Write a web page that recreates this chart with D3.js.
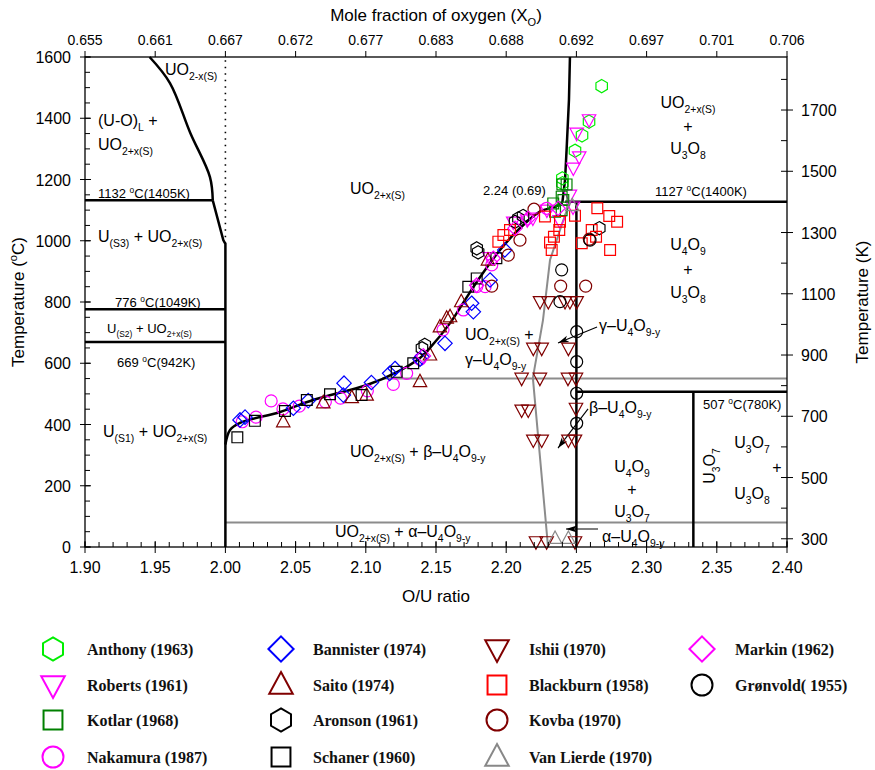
<!DOCTYPE html>
<html><head><meta charset="utf-8">
<script src="https://cdn.jsdelivr.net/npm/d3@7"></script>
<style>body{margin:0;background:#fff}svg{display:block}</style>
</head><body>
<svg id="c" width="875" height="770"></svg>
<script>
// ---------- DATA ----------
const ouTicks = [1.90,1.95,2.00,2.05,2.10,2.15,2.20,2.25,2.30,2.35,2.40];
const topTickLabels = ["0.655","0.661","0.667","0.672","0.677","0.683","0.688","0.692","0.697","0.701","0.706"];
const tempTicks = [0,200,400,600,800,1000,1200,1400,1600];
const kelvinTicks = [300,500,700,900,1100,1300,1500,1700];

const anthony = [[2.268,1505],[2.259,1389],[2.254,1344],[2.249,1294],[2.240,1204],[2.240,1188]];
const roberts = [[2.259,1395],[2.2502,1351],[2.252,1274],[2.2478,1237],[2.2454,1149],[2.205,1061],[2.215,1068],[2.219,1074],[2.229,1100],[2.238,1066],[2.2476,1110],[2.188,945]];
const kotlar = [[2.240,1184],[2.243,1184],[2.2395,1144],[2.2407,1133],[2.2335,1122],[2.2348,1095],[2.2395,1100]];
const nakamura = [[2.012,409],[2.0218,424],[2.0326,477],[2.041,451],[2.0526,460],[2.0712,474],[2.082,486],[2.1011,510],[2.1196,531],[2.1291,567],[2.1386,613],[2.155,709],[2.1695,774],[2.179,850],[2.185,850],[2.1897,921],[2.2288,1106]];
const bannister = [[2.0104,415],[2.014,424],[2.0484,453],[2.059,478],[2.0845,535],[2.084,496],[2.104,537],[2.117,567],[2.1208,583],[2.1386,613],[2.14,621],[2.1564,665],[2.1754,796],[2.1766,768],[2.1885,872],[2.199,970]];
const saito = [[2.0412,409],[2.0697,471],[2.09,488],[2.1006,496],[2.1386,540],[2.1528,719],[2.1576,747],[2.1457,627],[2.16,752],[2.168,801],[2.187,937]];
const aronson = [[2.179,975],[2.180,962],[2.2063,1062],[2.2087,1073],[2.212,1081],[2.2663,1041],[2.14,649],[2.142,660]];
const schaner = [[2.0085,358],[2.021,412],[2.0424,444],[2.058,480],[2.0745,499],[2.097,496],[2.122,572],[2.1338,600],[2.173,850],[2.179,877],[2.193,943]];
const ishii = [[2.2241,801],[2.23,801],[2.2419,801],[2.2454,801],[2.2502,801],[2.2193,649],[2.2253,649],[2.2443,649],[2.211,551],[2.224,551],[2.244,551],[2.2497,551],[2.211,447],[2.2157,447],[2.2497,453],[2.2193,349],[2.2253,349],[2.2443,349],[2.249,349],[2.2212,17],[2.2288,17],[2.249,17]];
const blackburn = [[2.2276,1079],[2.2383,1062],[2.249,1082],[2.2378,1035],[2.234,1013],[2.2312,994],[2.2324,970],[2.2649,1106],[2.2734,1081],[2.279,1062],[2.2609,1035],[2.264,1013],[2.2538,992],[2.274,970],[2.2027,1035],[2.198,1019],[2.1944,997]];
const kovba = [[2.2198,1103],[2.2098,1002],[2.2015,953],[2.1897,852],[2.2388,852],[2.2566,852],[2.2592,1005]];
const vanLierde = [[2.2348,28],[2.2443,28],[2.247,1115]];
const markin = [[2.2063,1041],[2.1908,943],[2.179,855],[2.237,1106],[2.2157,1073],[2.141,624]];
const gronvold = [[2.2383,801],[2.2502,703],[2.2502,605],[2.2502,502],[2.2502,404],[2.2395,905],[2.2597,1002]];

const seriesNames = ["Anthony (1963)","Roberts (1961)","Kotlar (1968)","Nakamura (1987)","Bannister (1974)","Saito (1974)","Aronson (1961)","Schaner (1960)","Ishii (1970)","Blackburn (1958)","Kovba (1970)","Van Lierde (1970)","Markin (1962)","Grønvold( 1955)"];
const seriesData = [anthony,roberts,kotlar,nakamura,bannister,saito,aronson,schaner,ishii,blackburn,kovba,vanLierde,markin,gronvold];
const seriesSymbols = ["hex","triDown","square","circle","diamond","triUp","hex","square","triDown","square","circle","triUp","diamond","circle"];
const seriesColors = ["#00ee00","#ff00ff","#008000","#ff00ff","#0000ff","#800000","#000000","#000000","#800000","#ff0000","#800000","#888888","#ff00ff","#000000"];

// phase boundaries (O/U, °C)
const liquidusTop = [[1.946,1600],[1.9605,1515],[1.975,1352],[1.989,1208],[1.991,1132]];
const liquidusLow = [[1.991,1132],[1.9985,1002],[2.0,990],[2.0,0]];
const uo2Curve = [[2.0,335],[2.0033,382],[2.0104,405],[2.039,441],[2.0624,480],[2.1009,529],[2.1222,571],[2.1386,617],[2.1457,650],[2.16,731],[2.1707,807],[2.18,872],[2.1956,970],[2.2098,1041],[2.224,1095],[2.236,1113],[2.240,1125]];
const uo2Upper = [[2.240,1125],[2.2419,1198],[2.243,1296],[2.2447,1460],[2.2454,1600]];
const dotted2 = [[2.0,990],[2.0,1600]];
const blackSegments = [
  [[1.90,1132],[1.991,1132]],
  [[1.90,776],[2.0,776]],
  [[1.90,669],[2.0,669]],
  [[2.242,1127],[2.40,1127]],
  [[2.25,0],[2.25,1127]],
  [[2.25,507],[2.40,507]],
  [[2.3333,0],[2.3333,507]]
];
const graySegments = [
  [[2.1115,550],[2.40,550]],
  [[2.0,80],[2.40,80]]
];
const grayCurve = [[2.246,1128],[2.2419,1084],[2.2312,937],[2.2262,741],[2.219,552],[2.2298,0]];
const arrows = [
  [[2.2647,718],[2.2369,666]],
  [[2.2583,451],[2.2369,323]],
  [[2.2654,59],[2.2426,59]]
];

// ---------- CHART ----------
const svg = d3.select("#c");
const SANS = "'Liberation Sans', Arial, Helvetica, sans-serif";
const x = d3.scaleLinear().domain([1.9,2.4]).range([85,787]);
const y = d3.scaleLinear().domain([0,1600]).range([547,57]);
const yK = d3.scaleLinear().domain([273.15,1873.15]).range([547,57]);

function rich(g, str, px, py, size, anchor) {
  const t = g.append("text").attr("x",px).attr("y",py).attr("font-size",size)
    .attr("text-anchor",anchor||"start").attr("font-family",SANS).attr("fill","#000");
  const parts = str.split(/(_\{[^}]*\}|\^\{[^}]*\})/).filter(s=>s.length);
  let shift = 0;
  parts.forEach(p => {
    let target = 0, content = p, fs = size;
    if (p.startsWith("_{")) { target = size*0.32; content = p.slice(2,-1); fs = size*0.65; }
    else if (p.startsWith("^{")) { target = -size*0.42; content = p.slice(2,-1); fs = size*0.65; }
    t.append("tspan").attr("dy", target-shift).attr("font-size", fs).text(content);
    shift = target;
  });
  return t;
}

function symPath(type, s) {
  if (type==="circle") { const r=s/2; return `M${r},0A${r},${r} 0 1,1 ${-r},0A${r},${r} 0 1,1 ${r},0Z`; }
  if (type==="square") { const h=s*0.45; return `M${-h},${-h}H${h}V${h}H${-h}Z`; }
  if (type==="diamond") { const h=s*0.6; return `M0,${-h}L${h},0L0,${h}L${-h},0Z`; }
  if (type==="triUp") { const a=s*0.56; return `M0,${-a*1.1}L${a},${a*0.75}L${-a},${a*0.75}Z`; }
  if (type==="triDown") { const a=s*0.56; return `M0,${a*1.1}L${a},${-a*0.75}L${-a},${-a*0.75}Z`; }
  if (type==="hex") { const r=s*0.55; let d=""; for(let i=0;i<6;i++){const an=-Math.PI/2+i*Math.PI/3; d+=(i?"L":"M")+(r*Math.cos(an)).toFixed(2)+","+(r*Math.sin(an)).toFixed(2);} return d+"Z"; }
}

const lineGen = d3.line().x(d=>x(d[0])).y(d=>y(d[1]));
const smoothGen = d3.line().x(d=>x(d[0])).y(d=>y(d[1])).curve(d3.curveCatmullRom.alpha(0.5));

const gL = svg.append("g");
graySegments.forEach(s => gL.append("path").attr("d", lineGen(s)).attr("fill","none").attr("stroke","#8c8c8c").attr("stroke-width",2));
gL.append("path").attr("d", lineGen(grayCurve)).attr("fill","none").attr("stroke","#8c8c8c").attr("stroke-width",2);
gL.append("path").attr("d", lineGen(dotted2)).attr("fill","none").attr("stroke","#000").attr("stroke-width",1.6).attr("stroke-dasharray","1.5,5");
blackSegments.forEach(s => gL.append("path").attr("d", lineGen(s)).attr("fill","none").attr("stroke","#000").attr("stroke-width",2.5));
gL.append("path").attr("d", smoothGen(liquidusTop)).attr("fill","none").attr("stroke","#000").attr("stroke-width",2.5);
gL.append("path").attr("d", lineGen(liquidusLow)).attr("fill","none").attr("stroke","#000").attr("stroke-width",2.5);
gL.append("path").attr("d", smoothGen(uo2Curve)).attr("fill","none").attr("stroke","#000").attr("stroke-width",2.5);
gL.append("path").attr("d", lineGen(uo2Upper)).attr("fill","none").attr("stroke","#000").attr("stroke-width",2.5);

const gP = svg.append("g");
seriesData.forEach((data,i) => {
  gP.selectAll(null).data(data).enter().append("path")
    .attr("transform", d => `translate(${x(d[0])},${y(d[1])})`)
    .attr("d", symPath(seriesSymbols[i], 12))
    .attr("fill","none").attr("stroke", seriesColors[i]).attr("stroke-width",1.2);
});

const defs = svg.append("defs");
defs.append("marker").attr("id","arr").attr("viewBox","0 -5 12 10").attr("refX",11).attr("refY",0)
  .attr("markerWidth",12).attr("markerHeight",10).attr("markerUnits","userSpaceOnUse").attr("orient","auto")
  .append("path").attr("d","M0,-3.5L11,0L0,3.5L3,0Z").attr("fill","#000");
arrows.forEach(a => gL.append("path").attr("d", lineGen(a)).attr("stroke","#000").attr("stroke-width",1.1).attr("fill","none").attr("marker-end","url(#arr)"));

svg.append("rect").attr("x",85).attr("y",57).attr("width",702).attr("height",490).attr("fill","none").attr("stroke","#000").attr("stroke-width",1.3);

const gA = svg.append("g").attr("stroke","#000").attr("stroke-width",1);
const minorOU = d3.range(190,241).map(v=>v/100);
gA.selectAll(null).data(minorOU).enter().append("line").attr("x1",d=>x(d)).attr("x2",d=>x(d)).attr("y1",547).attr("y2",542);
gA.selectAll(null).data(ouTicks).enter().append("line").attr("x1",d=>x(d)).attr("x2",d=>x(d)).attr("y1",553).attr("y2",541);
gA.selectAll(null).data(ouTicks).enter().append("line").attr("x1",d=>x(d)).attr("x2",d=>x(d)).attr("y1",57).attr("y2",51);
const minorT = d3.range(0,1601,50);
gA.selectAll(null).data(minorT).enter().append("line").attr("x1",85).attr("x2",90).attr("y1",d=>y(d)).attr("y2",d=>y(d));
gA.selectAll(null).data(tempTicks).enter().append("line").attr("x1",80).attr("x2",91).attr("y1",d=>y(d)).attr("y2",d=>y(d));
const minorK = d3.range(400,1801,200);
gA.selectAll(null).data(minorK).enter().append("line").attr("x1",781).attr("x2",787).attr("y1",d=>yK(d)).attr("y2",d=>yK(d));
gA.selectAll(null).data(kelvinTicks).enter().append("line").attr("x1",781).attr("x2",793).attr("y1",d=>yK(d)).attr("y2",d=>yK(d));

const gT = svg.append("g").attr("font-family",SANS).attr("font-size",16).attr("fill","#000");
gT.selectAll(null).data(ouTicks).enter().append("text").attr("x",d=>x(d)).attr("y",573).attr("text-anchor","middle").text(d=>d3.format(".2f")(d));
gT.selectAll(null).data(ouTicks).enter().append("text").attr("x",d=>x(d)).attr("y",45).attr("text-anchor","middle").attr("font-size",14).text((d,i)=>topTickLabels[i]);
gT.selectAll(null).data(tempTicks).enter().append("text").attr("x",71).attr("y",d=>y(d)+6).attr("text-anchor","end").text(d=>d);
gT.selectAll(null).data(kelvinTicks).enter().append("text").attr("x",801).attr("y",d=>yK(d)+6).attr("text-anchor","start").text(d=>d);

rich(svg, "Mole fraction of oxygen (X_{O})", 436, 21, 17, "middle");
rich(svg, "O/U ratio", 436, 602, 17, "middle");
rich(svg, "Temperature (^{o}C)", 24, 302, 17, "middle").attr("transform","rotate(-90,24,302)");
rich(svg, "Temperature (K)", 868, 302, 17, "middle").attr("transform","rotate(-90,868,302)");

const gN = svg.append("g");
rich(gN, "UO_{2-x(S)}", 165, 75, 16);
rich(gN, "(U-O)_{L} +", 98, 126, 16);
rich(gN, "UO_{2+x(S)}", 98, 150, 16);
rich(gN, "1132 ^{o}C(1405K)", 98, 198, 13);
rich(gN, "U_{(S3)} + UO_{2+x(S)}", 98, 242, 16);
rich(gN, "776 ^{o}C(1049K)", 115, 307, 13);
rich(gN, "U_{(S2)} + UO_{2+x(S)}", 107, 333, 13);
rich(gN, "669 ^{o}C(942K)", 117, 367, 13);
rich(gN, "U_{(S1)} + UO_{2+x(S)}", 103, 437, 16);
rich(gN, "UO_{2+x(S)}", 350, 194, 16);
rich(gN, "2.24 (0.69)", 483, 195, 13);
rich(gN, "1127 ^{o}C(1400K)", 655, 196, 13);
rich(gN, "UO_{2+x(S)}", 688, 108, 16, "middle");
rich(gN, "+", 688, 132, 16, "middle");
rich(gN, "U_{3}O_{8}", 688, 154, 16, "middle");
rich(gN, "U_{4}O_{9}", 688, 250, 16, "middle");
rich(gN, "+", 688, 275, 16, "middle");
rich(gN, "U_{3}O_{8}", 688, 298, 16, "middle");
rich(gN, "UO_{2+x(S)} +", 465, 340, 16);
rich(gN, "γ–U_{4}O_{9-y}", 465, 365, 16);
rich(gN, "γ–U_{4}O_{9-y}", 599, 331, 16);
rich(gN, "β–U_{4}O_{9-y}", 589, 413, 16);
rich(gN, "UO_{2+x(S)} + β–U_{4}O_{9-y}", 350, 457, 16);
rich(gN, "507 ^{o}C(780K)", 703, 409, 13);
rich(gN, "U_{4}O_{9}", 632, 472, 16, "middle");
rich(gN, "+", 632, 495, 16, "middle");
rich(gN, "U_{3}O_{7}", 632, 517, 16, "middle");
rich(gN, "U_{3}O_{7}", 715, 466, 16, "middle").attr("transform","rotate(-90,715,466)");
rich(gN, "U_{3}O_{7}", 752, 448, 16, "middle");
rich(gN, "+", 777, 473, 16, "middle");
rich(gN, "U_{3}O_{8}", 752, 499, 16, "middle");
rich(gN, "UO_{2+x(S)} + α–U_{4}O_{9-y}", 335, 537, 16);
rich(gN, "α–U_{4}O_{9-y}", 602, 542, 16);

const legSymX = [53,281,497,702], legTxtX = [87,313,529,735], legRowY = [649,685,720,757];
const gLeg = svg.append("g");
seriesNames.forEach((name,i) => {
  const c = Math.floor(i/4), r = i%4;
  gLeg.append("path").attr("transform",`translate(${legSymX[c]},${legRowY[r]})`)
    .attr("d", symPath(seriesSymbols[i], 21)).attr("fill","none").attr("stroke",seriesColors[i]).attr("stroke-width",2);
  gLeg.append("text").attr("x",legTxtX[c]).attr("y",legRowY[r]+5.5)
    .attr("font-family","'Liberation Serif','Times New Roman',serif").attr("font-weight","bold").attr("font-size",16)
    .attr("fill","#111").text(name);
});
</script>
</body></html>
